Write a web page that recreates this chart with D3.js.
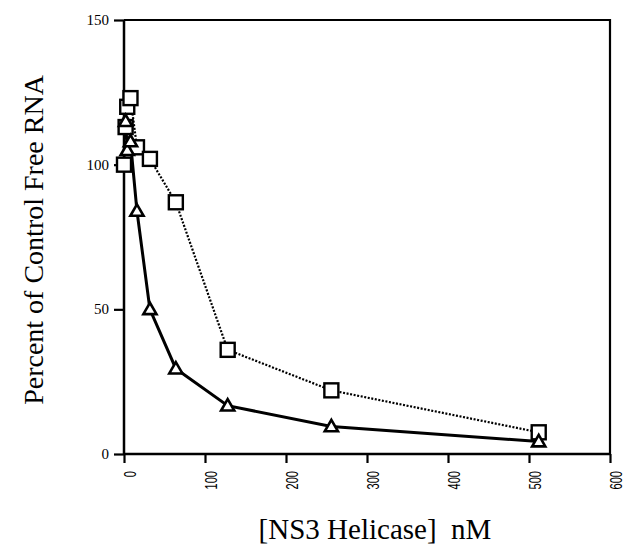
<!DOCTYPE html>
<html>
<head>
<meta charset="utf-8">
<script src="https://cdnjs.cloudflare.com/ajax/libs/d3/7.8.5/d3.min.js"></script>
<style>
  body { margin: 0; background: #fff; }
  svg { display: block; }
</style>
</head>
<body>
<div class="svgContainer"></div>
<script>
var w = 623;
var h = 550;

// NS3 helicase concentration (nM)
var squareX = [0, 2, 4, 8, 16, 32, 64, 128, 256, 512];
var squareY = [100, 113, 120, 123, 106, 102, 87, 36, 22, 7.5];
var triX = [2, 4, 8, 16, 32, 64, 128, 256, 512];
var triY = [115, 105, 108, 84, 50, 29.5, 16.7, 9.5, 4.3];
var xTicks = [0, 100, 200, 300, 400, 500, 600];
var yTicks = [0, 50, 100, 150];

var padL = 124, padR = 610, padT = 20, padB = 454;

var svg = d3.select(".svgContainer")
            .append("svg")
            .attr("width", w)
            .attr("height", h);

var xScale = d3.scaleLinear().domain([0, 600]).range([padL, padR]);
var yScale = d3.scaleLinear().domain([0, 150]).range([padB, padT]);

// frame (top + right)
svg.append("path")
   .attr("d", "M" + padL + "," + padT + "H" + padR + "V" + padB)
   .attr("fill", "none")
   .attr("stroke", "#000")
   .attr("stroke-width", 2.2);

var xAxis = d3.axisBottom(xScale).tickValues(xTicks).tickSize(9).tickFormat("");
svg.append("g")
   .attr("transform", "translate(0," + padB + ")")
   .call(xAxis)
   .call(g => g.select(".domain").attr("stroke-width", 2.5).attr("d", "M" + padL + ",0H" + padR))
   .call(g => g.selectAll(".tick line").attr("stroke-width", 2.2));

var yAxis = d3.axisLeft(yScale).tickValues(yTicks).tickSize(10).tickFormat("");
svg.append("g")
   .attr("transform", "translate(" + padL + ",0)")
   .call(yAxis)
   .call(g => g.select(".domain").attr("stroke-width", 2.5).attr("d", "M0," + padT + "V" + padB))
   .call(g => g.selectAll(".tick line").attr("stroke-width", 2.2));

// x tick labels, rotated and narrow
svg.selectAll(".xlab")
   .data(xTicks)
   .enter()
   .append("text")
   .attr("class", "xlab")
   .attr("transform", d => "translate(" + (xScale(d) + 12) + ",471) rotate(-90) scale(0.65,1)")
   .attr("text-anchor", "end")
   .style("font-family", "'Liberation Sans', Arial, sans-serif")
   .style("font-size", "17px")
   .text(d => d);

// y tick labels
svg.selectAll(".ylab")
   .data(yTicks)
   .enter()
   .append("text")
   .attr("class", "ylab")
   .attr("x", 109)
   .attr("y", d => yScale(d) + 5)
   .attr("text-anchor", "end")
   .style("font-family", "'Liberation Serif', 'Times New Roman', serif")
   .style("font-size", "15px")
   .text(d => d);

// axis titles
svg.append("text")
   .attr("transform", "translate(43,240) rotate(-90)")
   .attr("text-anchor", "middle")
   .style("font-family", "'Liberation Serif', 'Times New Roman', serif")
   .style("font-size", "28px")
   .text("Percent of Control Free RNA");

svg.append("text")
   .attr("x", 375)
   .attr("y", 539)
   .attr("text-anchor", "middle")
   .attr("xml:space", "preserve")
   .style("white-space", "pre")
   .style("font-family", "'Liberation Serif', 'Times New Roman', serif")
   .style("font-size", "29px")
   .text("[NS3 Helicase]  nM");

var line = d3.line().x(d => xScale(d[0])).y(d => yScale(d[1]));

var squares = squareX.map((x, i) => [x, squareY[i]]);
var tris = triX.map((x, i) => [x, triY[i]]);

svg.append("path")
   .datum(squares)
   .attr("d", line)
   .attr("fill", "none")
   .attr("stroke", "#000")
   .attr("stroke-width", 2.2)
   .attr("stroke-dasharray", "2,1.6");

svg.append("path")
   .datum(tris)
   .attr("d", line)
   .attr("fill", "none")
   .attr("stroke", "#000")
   .attr("stroke-width", 3);

var s = 14;
svg.selectAll(".sq")
   .data(squares)
   .enter()
   .append("rect")
   .attr("class", "sq")
   .attr("x", d => xScale(d[0]) - s / 2)
   .attr("y", d => yScale(d[1]) - s / 2)
   .attr("width", s)
   .attr("height", s)
   .attr("fill", "#fff")
   .attr("stroke", "#000")
   .attr("stroke-width", 2.4);

var tri = d3.symbol().type(d3.symbolTriangle).size(75);
svg.selectAll(".tri")
   .data(tris)
   .enter()
   .append("path")
   .attr("class", "tri")
   .attr("transform", d => "translate(" + xScale(d[0]) + "," + (yScale(d[1]) + 1) + ")")
   .attr("d", tri)
   .attr("fill", "#fff")
   .attr("stroke", "#000")
   .attr("stroke-width", 2.6);
</script>
</body>
</html>
